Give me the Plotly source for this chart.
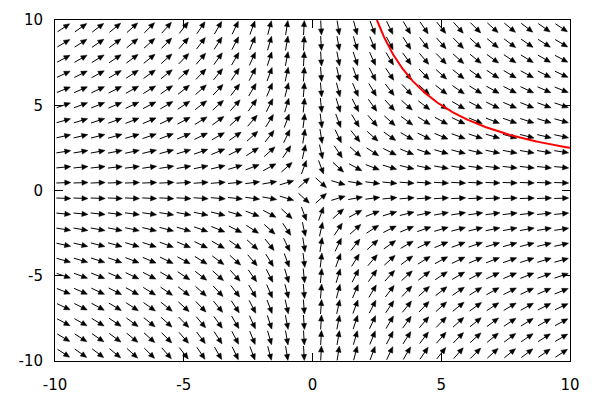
import numpy as np
import plotly.graph_objects as go

# Grid of slope-field sample points (cell centres)
X_CENTERS = [-9.667, -9.0, -8.333, -7.667, -7.0, -6.333, -5.667, -5.0, -4.333, -3.667,
             -3.0, -2.333, -1.667, -1.0, -0.333, 0.333, 1.0, 1.667, 2.333, 3.0,
             3.667, 4.333, 5.0, 5.667, 6.333, 7.0, 7.667, 8.333, 9.0, 9.667]
Y_CENTERS = [-9.545, -8.636, -7.727, -6.818, -5.909, -5.0, -4.091, -3.182, -2.273, -1.364,
             -0.455, 0.455, 1.364, 2.273, 3.182, 4.091, 5.0, 5.909, 6.818, 7.727,
             8.636, 9.545]
TICKS = [-10, -5, 0, 5, 10]
TICK_LABELS = ["-10", "-5", "0", "5", "10"]
X_RANGE = [-10, 10]
Y_RANGE = [-10, 10]
# solution curve x*y = C through (5, 5)
CURVE_C = 25.0
CURVE_X_START = 2.5
CURVE_X_END = 10.0


def slope(x, y):
    # dy/dx = -y/x
    return -y / x


W, H = 600, 400
OFF = 8  # page body margin offset
ML, MR, MT, MB = 55 - OFF, 30 + OFF, 20 - OFF, 39 + OFF
PW, PH = W - ML - MR, H - MT - MB
SX = PW / (X_RANGE[1] - X_RANGE[0])
SY = PH / (Y_RANGE[1] - Y_RANGE[0])

L_PX = 14.5   # arrow length in px
HL = 6.0      # head length px
HW = 2.6      # head half width px

shaft_x, shaft_y = [], []
head_x, head_y = [], []
for xc in X_CENTERS:
    for yc in Y_CENTERS:
        f = slope(xc, yc)
        mp = f * SY / SX
        n = np.hypot(1.0, mp)
        ux, uy = 1.0 / n, mp / n          # pixel-space unit direction (y up)
        px, py = -uy, ux
        tx, ty = xc - ux * L_PX / 2 / SX, yc - uy * L_PX / 2 / SY
        hx, hy = xc + ux * L_PX / 2 / SX, yc + uy * L_PX / 2 / SY
        bx, by = hx - ux * HL / SX, hy - uy * HL / SY
        shaft_x += [tx, bx + ux * 1.0 / SX, None]
        shaft_y += [ty, by + uy * 1.0 / SY, None]
        head_x += [hx, bx + px * HW / SX, bx - px * HW / SX, hx, None]
        head_y += [hy, by + py * HW / SY, by - py * HW / SY, hy, None]

cx = np.linspace(CURVE_X_START, CURVE_X_END, 300)
cy = CURVE_C / cx

fig = go.Figure()
fig.add_trace(go.Scatter(x=shaft_x, y=shaft_y, mode="lines",
                         line=dict(color="black", width=1), hoverinfo="skip",
                         showlegend=False))
fig.add_trace(go.Scatter(x=head_x, y=head_y, mode="lines", fill="toself",
                         fillcolor="black", line=dict(color="black", width=0.5),
                         hoverinfo="skip", showlegend=False))
fig.add_trace(go.Scatter(x=cx, y=cy, mode="lines",
                         line=dict(color="#ff0000", width=2), showlegend=False))

axis_common = dict(showgrid=False, zeroline=False, showline=True, linecolor="black",
                   linewidth=1, mirror="ticks", ticks="inside", ticklen=8,
                   tickcolor="black", tickwidth=1, tickvals=TICKS, ticktext=TICK_LABELS,
                   automargin=False,
                   tickfont=dict(family="DejaVu Sans", size=15, color="black"))
fig.update_layout(
    width=W, height=H,
    margin=dict(l=ML, r=MR, t=MT, b=MB, autoexpand=False),
    paper_bgcolor="white", plot_bgcolor="white",
    xaxis=dict(range=X_RANGE, ticklabelstandoff=10, **axis_common),
    yaxis=dict(range=Y_RANGE, ticklabelstandoff=8, **axis_common),
)
fig.write_html("out.html")
